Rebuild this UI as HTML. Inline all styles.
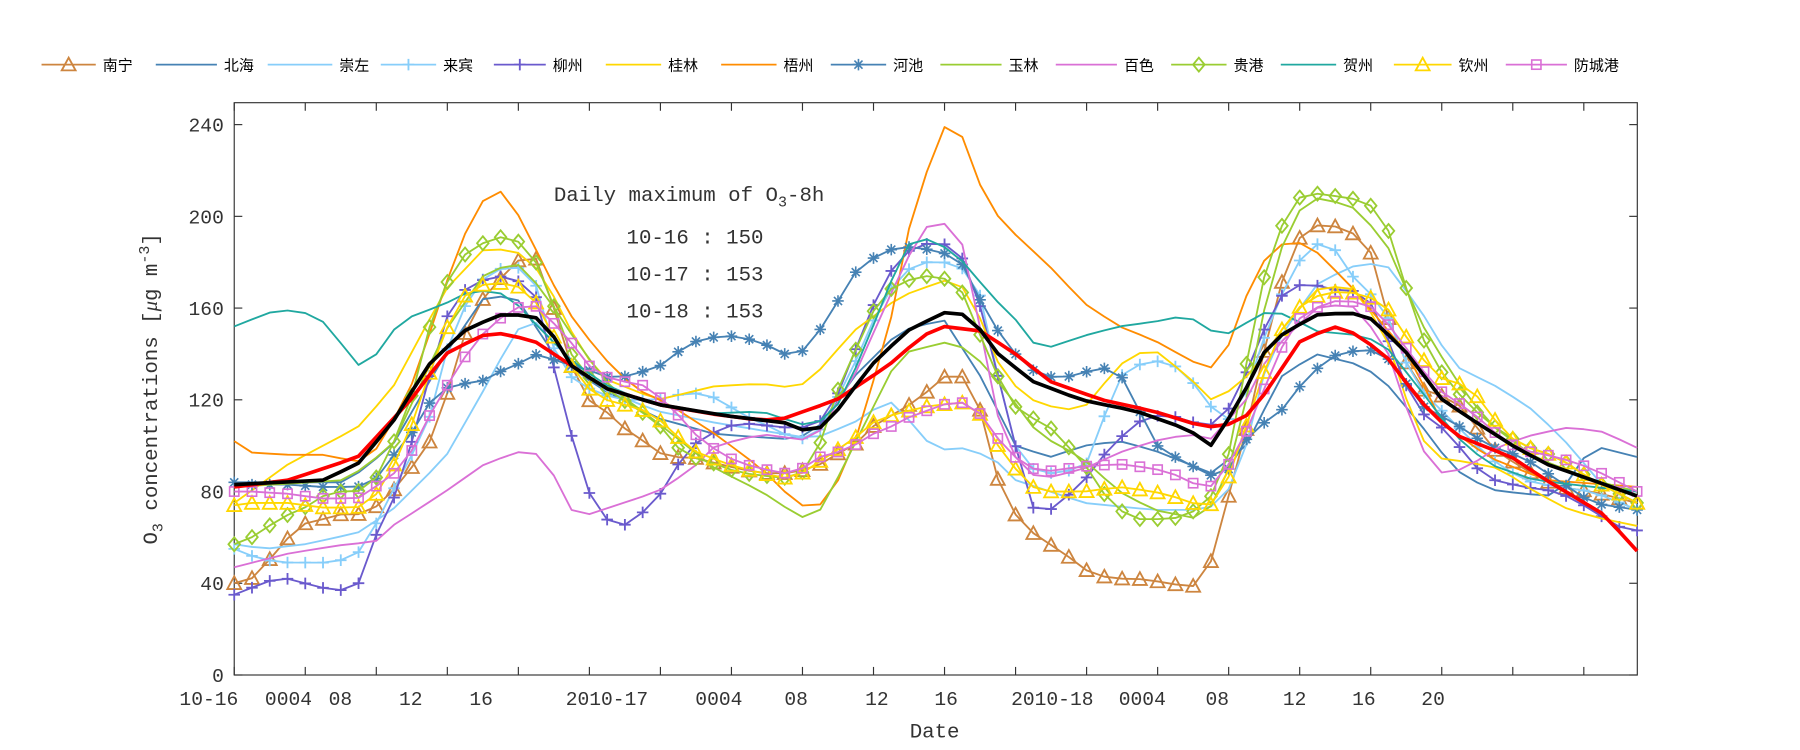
<!DOCTYPE html>
<html><head><meta charset="utf-8"><style>
html,body{margin:0;padding:0;background:#fff;}
svg{display:block;}
text{font-family:"Liberation Mono","DejaVu Sans Mono",monospace;fill:#333;}
.lg{font-family:"Liberation Sans","Noto Sans CJK SC",sans-serif;font-size:13px;fill:#000;}
</style></head><body>
<svg id="s" width="1800" height="750" viewBox="0 0 1560 650" preserveAspectRatio="none" xmlns="http://www.w3.org/2000/svg">
<rect x="203" y="89" width="1216" height="496" fill="#fff" stroke="#333" stroke-width="1"/>
<g id="ticks"></g>
<g id="data"></g>
<g id="leg"></g>
<text x="480" y="174" font-size="18">Daily maximum of O<tspan font-size="13" dy="5">3</tspan><tspan dy="-5">-8h</tspan></text>
<text x="543" y="211" font-size="18">10-16 : 150</text>
<text x="543" y="243" font-size="18">10-17 : 153</text>
<text x="543" y="275" font-size="18">10-18 : 153</text>
<text x="810" y="639" font-size="18" text-anchor="middle">Date</text>
<text transform="translate(136,337) rotate(-90)" font-size="18" text-anchor="middle">O<tspan font-size="13" dy="5">3</tspan><tspan dy="-5"> concentrations [</tspan><tspan font-family="Liberation Serif" font-style="italic">μ</tspan>g m<tspan font-size="13" dy="-7">-3</tspan><tspan dy="7">]</tspan></text>
</svg>
<script>
var NS="http://www.w3.org/2000/svg";
function el(t,a,p){var e=document.createElementNS(NS,t);for(var k in a)e.setAttribute(k,a[k]);p.appendChild(e);return e;}
var T=document.getElementById('ticks'),D=document.getElementById('data'),L=document.getElementById('leg');
function Y(v){return 585-v*1.9875;}
for(var v=0;v<=240;v+=40){var y=Y(v);el('line',{x1:203,x2:210,y1:y,y2:y,stroke:'#333'},T);el('line',{x1:1412,x2:1419,y1:y,y2:y,stroke:'#333'},T);var t=el('text',{x:194,y:y+6,'font-size':17,'text-anchor':'end'},T);t.textContent=v;}
var xl=[[181,'10-16'],[250,'0004'],[295,'08'],[356,'12'],[417,'16'],[526,'2010-17'],[623,'0004'],[690,'08'],[760,'12'],[820,'16'],[912,'2010-18'],[990,'0004'],[1055,'08'],[1122,'12'],[1182,'16'],[1242,'20']];
xl.forEach(function(a){var t=el('text',{x:a[0],y:611,'font-size':17,'text-anchor':'middle'},T);t.textContent=a[1];});
for(var h=0;h<80;h+=4){var x=203+15.39*h;el('line',{x1:x,x2:x,y1:585,y2:578,stroke:'#333'},T);el('line',{x1:x,x2:x,y1:89,y2:96,stroke:'#333'},T);}
function interp(k,x){if(x<=k[0][0])return k[0][1];for(var i=1;i<k.length;i++){if(x<=k[i][0]){var a=k[i-1],b=k[i];return a[1]+(b[1]-a[1])*(x-a[0])/(b[0]-a[0]);}}return k[k.length-1][1];}
var S=[
['南宁','#cd853f','tri',[[203,40],[218,42],[233,50],[250,60],[264,66],[280,68],[295,70],[310,70],[325,73],[340,80],[356,90],[371,100],[386,120],[402,148],[417,163],[432,172],[447,180],[462,185],[477,165],[495,135],[510,120],[525,115],[540,108],[555,103],[570,97],[585,95],[600,95],[615,93],[640,90],[660,88],[680,88],[705,90],[720,95],[740,100],[760,110],[780,115],[800,122],[818,130],[833,131],[850,115],[865,85],[880,70],[895,62],[910,57],[925,52],[940,46],[955,43],[970,42],[985,42],[1000,41],[1015,40],[1030,38],[1045,41],[1060,70],[1075,95],[1090,130],[1110,170],[1125,190],[1140,196],[1155,196],[1170,193],[1185,190],[1200,160],[1215,140],[1230,125],[1260,120],[1275,112],[1290,100],[1320,90],[1350,82],[1380,80],[1419,75]]],
['北海','#4682b4','',[[203,84],[300,84],[340,100],[386,140],[420,165],[447,165],[480,140],[520,125],[570,112],[620,105],[680,103],[705,105],[740,130],[780,150],[818,155],[850,130],[880,100],[910,95],[940,100],[970,102],[1000,98],[1030,92],[1050,88],[1080,100],[1110,130],[1140,140],[1180,135],[1200,128],[1230,110],[1260,90],[1290,81],[1320,79],[1350,78],[1380,100],[1419,95]]],
['崇左','#87cefa','',[[203,57],[230,55],[264,57],[310,62],[340,72],[386,95],[420,125],[447,150],[462,155],[480,145],[520,125],[570,115],[620,110],[680,105],[705,103],[740,110],[770,120],[790,110],[810,98],[833,99],[860,95],[880,85],[910,80],[940,75],[1000,72],[1040,72],[1060,75],[1080,100],[1100,140],[1140,170],[1170,178],[1200,180],[1230,160],[1260,135],[1300,125],[1330,115],[1360,100],[1390,82],[1419,75]]],
['来宾','#87cefa','plus',[[203,55],[218,52],[233,50],[250,49],[264,49],[280,49],[295,50],[310,53],[325,65],[340,80],[356,95],[371,110],[386,140],[402,160],[417,172],[432,177],[447,178],[462,175],[477,145],[495,130],[510,125],[525,122],[540,120],[570,120],[585,122],[600,123],[615,122],[630,118],[645,113],[660,110],[680,105],[705,102],[720,115],[740,135],[760,158],[780,175],[800,180],[818,180],[833,178],[850,165],[865,130],[880,100],[895,90],[910,88],[940,90],[970,130],[985,135],[1000,137],[1015,136],[1030,130],[1045,120],[1060,110],[1075,115],[1090,140],[1110,165],[1125,180],[1140,188],[1155,187],[1170,175],[1200,160],[1215,140],[1230,125],[1260,110],[1290,95],[1320,85],[1350,82],[1380,80],[1419,72]]],
['柳州','#6a5acd','plus',[[203,35],[218,38],[233,41],[250,42],[264,40],[280,38],[295,37],[310,39],[325,60],[340,75],[356,100],[371,128],[386,155],[400,167],[417,172],[432,174],[447,172],[462,170],[477,140],[495,105],[510,80],[525,68],[540,65],[555,70],[570,77],[585,90],[600,100],[615,105],[640,110],[680,108],[705,108],[720,115],[740,140],[760,165],[780,183],[800,188],[818,188],[833,183],[850,160],[865,130],[880,100],[895,73],[910,72],[925,78],[940,85],[955,95],[970,103],[985,110],[1000,113],[1015,113],[1030,111],[1045,108],[1060,112],[1075,125],[1090,145],[1110,165],[1125,170],[1140,170],[1155,168],[1170,168],[1185,165],[1200,150],[1215,130],[1230,115],[1245,110],[1260,103],[1275,92],[1295,85],[1320,82],[1350,80],[1380,72],[1400,65],[1419,63]]],
['桂林','#ffd700','',[[203,75],[250,92],[280,100],[310,108],[340,125],[386,168],[420,186],[447,185],[470,175],[495,150],[520,130],[570,120],[620,126],[660,127],[690,125],[705,130],[740,150],[780,165],[818,172],[833,170],[850,155],[870,130],[900,118],[937,115],[970,135],[985,140],[1000,142],[1030,130],[1050,120],[1070,125],[1090,135],[1110,150],[1140,168],[1170,170],[1200,150],[1215,125],[1240,95],[1270,93],[1300,90],[1330,80],[1360,72],[1390,68],[1419,65]]],
['梧州','#ff8c00','',[[203,102],[218,97],[250,96],[280,96],[310,93],[330,100],[360,130],[386,170],[405,195],[420,208],[432,212],[450,200],[465,185],[490,160],[520,140],[550,125],[580,118],[620,105],[660,90],[690,75],[705,72],[720,78],[740,100],[770,150],[790,200],[805,222],[812,234],[820,240],[833,236],[848,215],[865,200],[880,192],[910,178],[940,162],[970,152],[1000,146],[1047,133],[1062,140],[1080,165],[1100,185],[1120,190],[1140,185],[1170,170],[1220,140],[1250,110],[1290,95],[1340,85],[1419,82]]],
['河池','#4682b4','star',[[203,84],[218,83],[250,83],[280,82],[310,82],[325,85],[340,95],[356,105],[371,118],[386,125],[402,127],[417,128],[432,132],[447,135],[462,140],[477,138],[495,135],[510,133],[525,130],[540,130],[555,132],[570,134],[585,140],[600,145],[615,147],[630,148],[645,147],[660,145],[680,140],[695,141],[710,150],[725,162],[740,175],[760,183],[780,187],[800,186],[818,184],[833,180],[850,163],[865,150],[880,140],[895,133],[910,130],[925,130],[940,132],[955,134],[970,132],[985,118],[1000,101],[1015,96],[1030,92],[1045,88],[1060,85],[1075,100],[1090,108],[1110,115],[1125,125],[1140,133],[1155,139],[1170,141],[1185,142],[1200,140],[1215,130],[1230,118],[1245,114],[1260,110],[1275,105],[1290,100],[1320,95],[1350,85],[1380,75],[1419,72]]],
['玉林','#9acd32','',[[203,82],[300,85],[340,100],[386,150],[420,175],[447,180],[470,168],[500,145],[530,125],[570,110],[620,90],[660,80],[690,70],[705,67],[720,80],[740,100],[780,140],[818,145],[840,142],[870,125],[900,105],[937,95],[970,80],[1000,72],[1040,68],[1060,80],[1080,120],[1100,170],[1120,200],[1140,208],[1170,205],[1200,190],[1230,155],[1260,130],[1290,110],[1330,95],[1380,85],[1419,80]]],
['百色','#da70d6','',[[203,47],[250,53],[300,57],[325,58],[340,65],[386,80],[420,92],[447,97],[462,98],[480,87],[495,72],[510,70],[540,75],[570,80],[600,90],[620,100],[660,105],[705,102],[740,130],[780,175],[800,195],[818,197],[833,190],[850,150],[870,100],[900,85],[940,90],[970,97],[1000,102],[1030,105],[1050,103],[1080,120],[1100,140],[1140,160],[1170,162],[1200,145],[1230,100],[1250,88],[1270,90],[1300,100],[1330,105],[1360,108],[1390,106],[1419,99]]],
['贵港','#9acd32','dia',[[203,57],[218,60],[233,65],[250,70],[264,73],[280,78],[295,80],[310,80],[325,85],[340,100],[356,120],[371,150],[386,170],[402,183],[417,188],[432,191],[447,190],[462,183],[477,165],[495,140],[510,130],[525,125],[540,120],[555,115],[570,110],[585,100],[600,95],[615,93],[630,90],[645,88],[660,87],[680,86],[695,88],[710,100],[725,123],[740,140],[756,158],[771,168],[786,172],[802,174],[818,173],[833,168],[848,150],[865,130],[880,117],[895,112],[910,108],[925,100],[940,92],[955,80],[970,72],[985,68],[1015,68],[1030,70],[1045,75],[1060,85],[1075,120],[1090,165],[1110,195],[1125,208],[1140,210],[1155,209],[1170,208],[1185,206],[1200,199],[1215,175],[1230,150],[1245,135],[1260,125],[1275,117],[1290,110],[1305,105],[1320,100],[1350,95],[1380,85],[1419,75]]],
['贺州','#20a8a0','',[[203,152],[233,158],[250,159],[264,158],[280,154],[295,145],[310,135],[325,139],[340,150],[355,156],[386,162],[410,168],[440,166],[470,150],[500,135],[530,125],[570,118],[620,114],[660,115],[690,110],[705,108],[730,120],[755,150],[775,175],[790,190],[810,190],[835,180],[860,165],[880,155],[895,145],[910,143],[940,148],[970,152],[1000,154],[1020,156],[1035,155],[1050,150],[1065,149],[1085,155],[1100,159],[1115,157],[1140,150],[1180,148],[1200,144],[1230,125],[1260,105],[1290,92],[1330,85],[1380,82],[1419,80]]],
['钦州','#ffd700','tri',[[203,74],[218,75],[250,75],[280,73],[310,73],[325,78],[340,90],[356,108],[371,130],[386,150],[402,165],[417,170],[432,171],[447,170],[462,165],[477,150],[495,135],[510,125],[525,120],[540,118],[555,116],[570,112],[585,105],[600,98],[615,95],[630,92],[645,90],[660,88],[680,86],[695,88],[710,93],[725,98],[740,103],[756,110],[771,113],[786,115],[802,117],[818,118],[833,119],[848,115],[865,100],[880,90],[895,82],[910,80],[940,80],[970,82],[1000,80],[1030,76],[1045,72],[1060,80],[1075,100],[1090,125],[1110,150],[1125,160],[1140,165],[1155,167],[1170,167],[1185,165],[1200,162],[1215,150],[1230,140],[1245,130],[1260,128],[1275,125],[1290,115],[1305,105],[1320,100],[1350,95],[1380,85],[1419,75]]],
['防城港','#da70d6','sq',[[203,80],[218,80],[250,79],[264,78],[280,77],[310,77],[325,82],[340,87],[356,97],[371,112],[386,125],[402,138],[417,148],[432,155],[447,160],[462,162],[477,155],[495,145],[510,135],[525,130],[540,128],[555,127],[570,122],[585,115],[600,106],[615,100],[630,95],[645,92],[660,90],[680,88],[695,90],[710,95],[725,97],[740,100],[756,105],[771,108],[786,112],[802,115],[818,118],[833,119],[848,115],[865,103],[880,95],[895,90],[910,89],[925,90],[940,91],[970,92],[985,91],[1000,90],[1015,88],[1030,85],[1045,80],[1060,88],[1075,100],[1090,118],[1110,142],[1125,155],[1140,160],[1155,163],[1170,163],[1185,162],[1200,155],[1215,145],[1230,135],[1245,125],[1260,120],[1275,115],[1290,108],[1305,102],[1320,98],[1350,95],[1380,90],[1419,80]]]
];
var red=[[203,82],[250,85],[310,95],[356,120],[386,140],[417,148],[432,149],[462,146],[495,135],[525,125],[570,118],[615,114],[660,111],[680,112],[725,120],[770,135],[800,148],[818,152],[850,150],[880,140],[910,128],[955,120],[1000,115],[1045,108],[1075,110],[1100,125],[1125,145],[1155,152],[1170,150],[1200,140],[1230,120],[1260,105],[1310,95],[1340,85],[1390,70],[1419,54]];
var black=[[203,83],[280,85],[310,92],[340,110],[371,135],[402,150],[432,157],[462,157],[477,150],[495,135],[525,125],[570,118],[630,113],[680,110],[705,105],[725,115],[755,135],[786,150],[818,158],[840,157],[865,140],[895,128],[937,120],[985,115],[1030,107],[1050,100],[1075,120],[1100,145],[1140,157],[1170,158],[1190,155],[1220,140],[1250,120],[1280,110],[1311,100],[1340,92],[1380,85],[1419,78]];
function marker(type,x,y,c,p){var r=5;
 if(type=='tri')el('polygon',{points:(x)+','+(y-r-1)+' '+(x-r-1)+','+(y+r)+' '+(x+r+1)+','+(y+r),fill:'none',stroke:c,'stroke-width':1.6},p);
 else if(type=='plus'){el('path',{d:'M'+(x-r)+' '+y+'H'+(x+r)+'M'+x+' '+(y-r)+'V'+(y+r),stroke:c,'stroke-width':1.6},p);}
 else if(type=='star'){el('path',{d:'M'+(x-r)+' '+y+'H'+(x+r)+'M'+x+' '+(y-r)+'V'+(y+r)+'M'+(x-3.5)+' '+(y-3.5)+'L'+(x+3.5)+' '+(y+3.5)+'M'+(x-3.5)+' '+(y+3.5)+'L'+(x+3.5)+' '+(y-3.5),stroke:c,'stroke-width':1.4},p);}
 else if(type=='dia')el('polygon',{points:x+','+(y-r-1)+' '+(x+r)+','+y+' '+x+','+(y+r+1)+' '+(x-r)+','+y,fill:'none',stroke:c,'stroke-width':1.6},p);
 else if(type=='sq')el('rect',{x:x-4,y:y-4,width:8,height:8,fill:'none',stroke:c,'stroke-width':1.4},p);}
function drawLine(k,c,w,type){var pts=[];var ms=[];for(var h=0;h<80;h++){var x=203+15.39*h;var y=Y(interp(k,x));pts.push(x.toFixed(1)+','+y.toFixed(1));ms.push([x,y]);}
 el('polyline',{points:pts.join(' '),fill:'none',stroke:c,'stroke-width':w,'stroke-linejoin':'round'},D);
 if(type)ms.forEach(function(m){marker(type,m[0],m[1],c,D);});}
S.forEach(function(s){drawLine(s[3],s[1],1.6,s[2]);});
drawLine(red,'#ff0000',3.2,'');
drawLine(black,'#000000',3.2,'');
var lx=[[36,95],[135,200],[232,300],[330,390],[428,485],[525,585],[625,685],[720,780],[815,880],[915,980],[1015,1075],[1110,1170],[1208,1270],[1305,1370]];
S.forEach(function(s,i){var a=lx[i][0],b=lx[i][1]-12;el('line',{x1:a,x2:b,y1:56,y2:56,stroke:s[1],'stroke-width':1.6},L);if(s[2])marker(s[2],(a+b)/2,56,s[1],L);var t=el('text',{x:lx[i][1]-6,y:61,'class':'lg'},L);t.textContent=s[0];});
</script>
</body></html>
